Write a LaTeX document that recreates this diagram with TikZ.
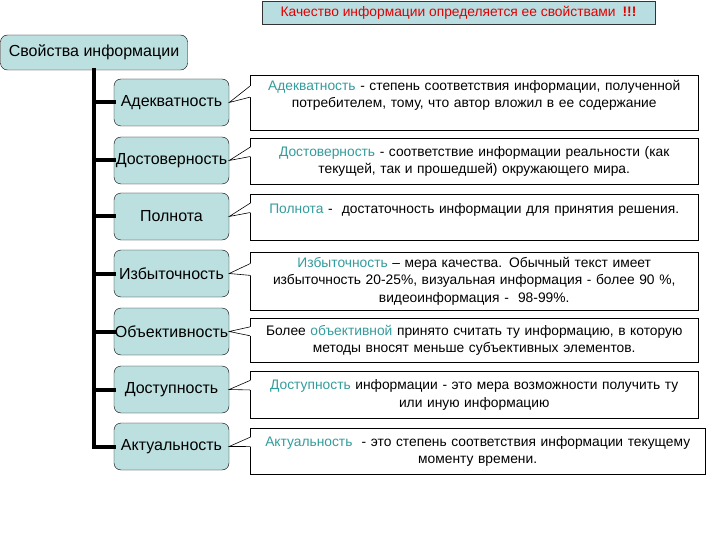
\documentclass[tikz,border=0pt]{standalone}
\usepackage{fontspec}
\setmainfont{Liberation Sans}
\usepackage{xcolor}
\usetikzlibrary{calc}
\definecolor{cBox}{HTML}{BCE0E0}
\definecolor{cTitle}{HTML}{B9DEE2}
\definecolor{cWord}{HTML}{339C9C}
\definecolor{cRed}{HTML}{E00000}
\newcommand{\kw}[1]{\textcolor{cWord}{#1}}
\tikzset{
  x=1pt, y=-1pt,
  title/.style ={rectangle, draw=black!80, fill=cTitle, text=cRed, inner sep=0pt,
                 font=\fontsize{13.8}{15}\selectfont, minimum width=393pt, minimum height=23pt},
  root/.style  ={rectangle, rounded corners=7pt, draw=black, fill=cBox, inner sep=0pt,
                 font=\fontsize{16}{18}\selectfont, minimum width=187pt, minimum height=35pt},
  prop/.style  ={rectangle, rounded corners=7pt, draw=black, fill=cBox, inner sep=0pt,
                 font=\fontsize{16}{18}\selectfont, minimum width=115pt, minimum height=47pt},
  note/.style  ={rectangle, draw=black, fill=white, anchor=north west, align=center,
                 text width=440pt, inner xsep=4pt, inner ysep=2pt,
                 font=\fontsize{13.8}{17.5}\selectfont},
  trunk/.style ={line width=4pt, line cap=rect},
  ptr/.style   ={draw=black, line width=0.6pt},
}
\begin{document}
\begin{tikzpicture}
  \useasboundingbox (0,0) rectangle (720,540);
  \node[title] (head) at (458.5,12.5) {Качество информации определяется ее свойствами\hspace{7pt}\textbf{!!!}};
  \node[root] (root) at (94,52.5) {Свойства информации};
  % properties
  \node[prop] (p1) at (171.5,102.5) {Адекватность};
  \node[prop] (p2) at (171.5,160.5) {Достоверность};
  \node[prop] (p3) at (171.5,216.5) {Полнота};
  \node[prop] (p4) at (171.5,273.5) {Избыточность};
  \node[prop] (p5) at (171.5,331.5) {Объективность};
  \node[prop] (p6) at (171.5,389.5) {Доступность};
  \node[prop] (p7) at (171.5,446.5) {Актуальность};
  % notes
  \node[note,minimum height=55pt] (n1) at (250,75) {\kw{Адекватность} - степень соответствия информации, полученной\\потребителем, тому, что автор вложил в ее содержание\\\mbox{}};
  \node[note,minimum height=46pt] (n2) at (250,138) {\kw{Достоверность} - соответствие информации реальности (как\\текущей, так и прошедшей) окружающего мира.};
  \node[note,minimum height=46pt] (n3) at (250,194) {\kw{Полнота} -\ \ достаточность информации для принятия решения.\\\mbox{}};
  \node[note,minimum height=58pt] (n4) at (250,252) {\kw{Избыточность} – мера качества. Обычный текст имеет\\избыточность 20-25\%, визуальная информация - более 90~\%,\\видеоинформация -\ \ 98-99\%.};
  \node[note,minimum height=44pt] (n5) at (250,318) {Более \kw{объективной} принято считать ту информацию, в которую\\методы вносят меньше субъективных элементов.};
  \node[note,minimum height=47pt] (n6) at (250,371) {\kw{Доступность} информации - это мера возможности получить ту\\или иную информацию};
  \node[note,minimum height=46pt,text width=447pt] (n7) at (250,428) {\kw{Актуальность}\ \ - это степень соответствия информации текущему\\моменту времени.};
  % tree lines
  \draw[trunk] (root.south) -- (root.south |- p7.west) -- (p7.west);
  \foreach \i in {1,...,6} \draw[trunk] (root.south |- p\i.west) -- (p\i.west);
  % callout pointers
  \foreach \i in {1,...,7} {
    \coordinate (a\i) at ($(n\i.north west)!0.2!(n\i.south west)$);
    \coordinate (b\i) at ($(n\i.north west)!0.4!(n\i.south west)$);
    \fill[white] (a\i) -- (p\i.east) -- (b\i) -- ($(b\i)+(1,0)$) -- ($(a\i)+(1,0)$) -- cycle;
    \draw[ptr] (a\i) -- (p\i.east) -- (b\i);
  }
\end{tikzpicture}
\end{document}
